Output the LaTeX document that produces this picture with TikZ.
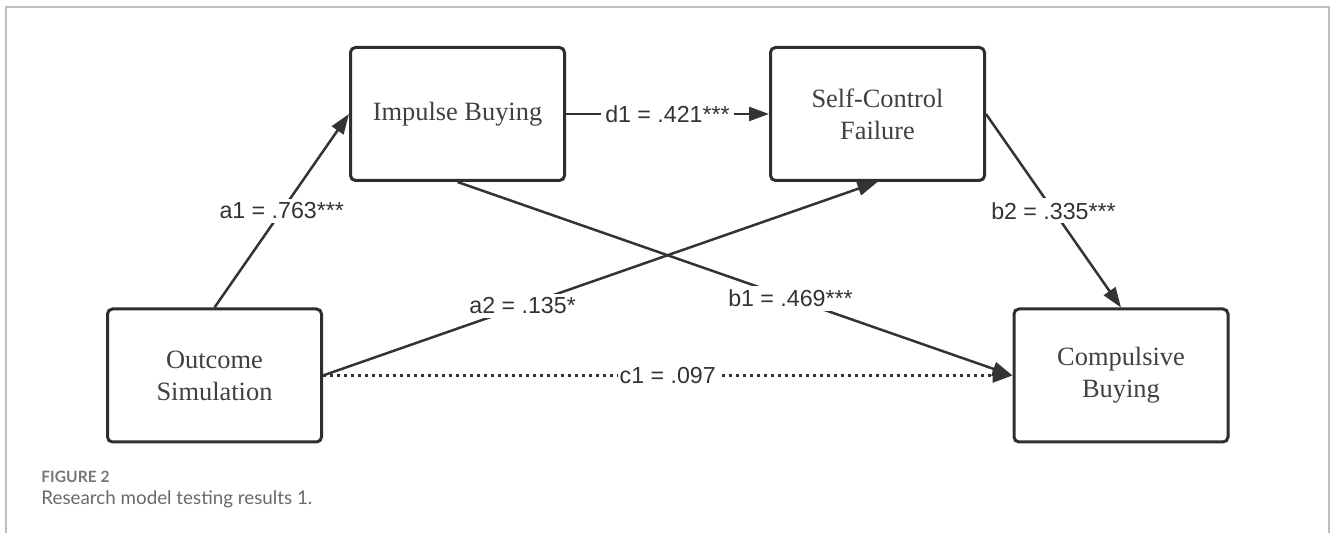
\documentclass[tikz,border=0pt]{standalone}
\usepackage{fontspec}
\setmainfont{Liberation Serif}
\setsansfont{Liberation Sans}
\newfontfamily\captionfont{Lato}
\usetikzlibrary{arrows.meta,positioning}
\definecolor{boxline}{RGB}{43,47,51}
\definecolor{arrowgray}{RGB}{51,51,51}
\definecolor{textgray}{RGB}{64,64,64}
\definecolor{framegray}{RGB}{190,190,190}
\definecolor{capgray}{RGB}{105,105,105}

\begin{document}
\begin{tikzpicture}[x=0.5pt, y=-0.5pt,
		construct/.style={draw=boxline, line width=1.5pt, rounded corners=2.5pt, minimum width=107pt, minimum height=66.5pt, inner sep=0pt, align=center, text=textgray, font=\fontsize{13.2}{16}\selectfont},
		effect/.style={draw=arrowgray, line width=1.25pt, -{Triangle[length=10pt, width=7pt]}},
		direct/.style={effect, dash pattern=on 1.4pt off 2.1pt},
		coef/.style={fill=white, inner sep=2pt, text=arrowgray, font=\sffamily\fontsize{11.6}{14}\selectfont},
		caption/.style={anchor=base west, inner sep=0pt, text=capgray}]
		
		\useasboundingbox (0,0) rectangle (1330,533);
		\draw [framegray, line width=0.75pt] (6,533) -- (6,7) -- (1329,7) -- (1329,533);
		
		\node [construct] (impulse) at (457.5, 114) {Impulse Buying};
		\node [construct] (selfcontrol) at (877.5, 114) {Self-Control\\Failure};
		\node [construct] (outcome) at (214.5, 375.5) {Outcome\\Simulation};
		\node [construct] (compulsive) at (1121, 375.5) {Compulsive\\Buying};
		
		\draw [effect] (outcome.north) -- node [coef] {a1 = .763***} (impulse.west);
		\draw [effect] (impulse.east) -- node [coef] {d1 = .421***} (selfcontrol.west);
		\draw [effect] (outcome.east) -- node [coef, pos=0.36] {a2 = .135*} (selfcontrol.south);
		\draw [effect] (impulse.south) -- node [coef, pos=0.6] {b1 = .469***} (compulsive.west);
		\draw [effect] (selfcontrol.east) -- node [coef] {b2 = .335***} (compulsive.north);
		\draw [direct] (outcome.east) -- node [coef, inner sep=1pt] {c1 = .097} (compulsive.west);
		
		\node [caption, font=\captionfont\bfseries\fontsize{7.8}{9}\selectfont, text=capgray!90] (figlabel) at (41, 483) {FIGURE 2};
		\node [caption, font=\captionfont\fontsize{9.4}{11}\selectfont] (figcaption) at (41, 505) {Research model testing results 1.};
	\end{tikzpicture}
\end{document}
